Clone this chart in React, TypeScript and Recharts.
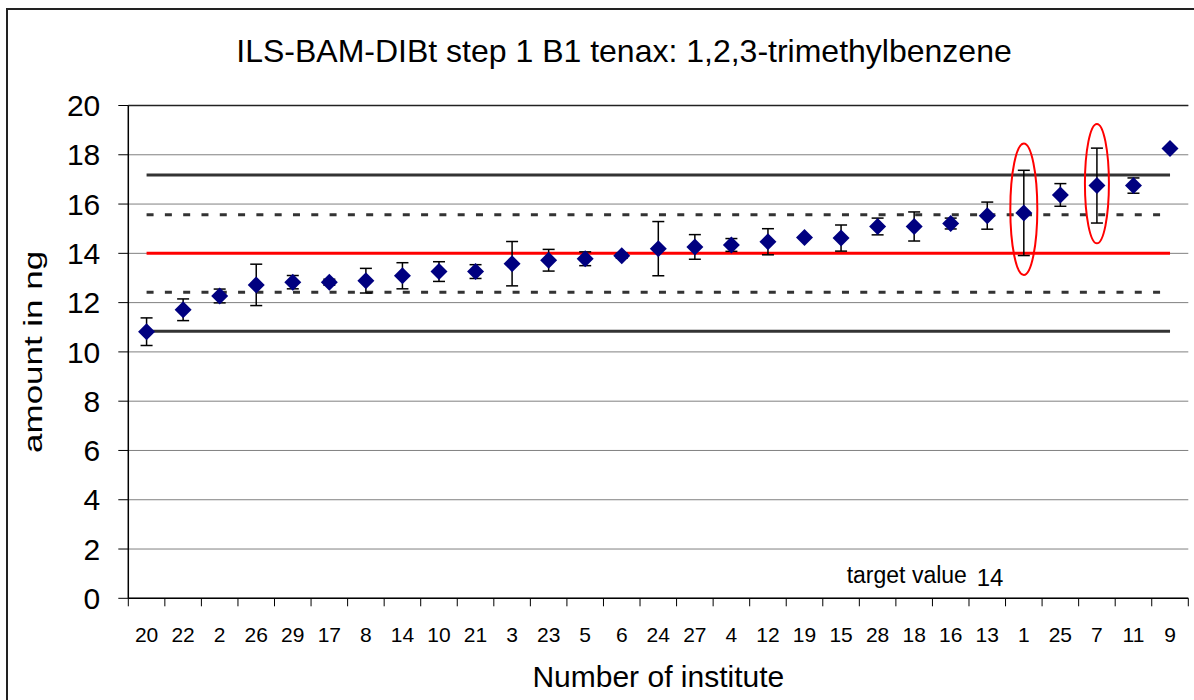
import {
  ComposedChart,
  Line,
  XAxis,
  YAxis,
  CartesianGrid,
  ErrorBar,
  ReferenceDot,
  ReferenceLine,
} from "recharts";

const institutes = [
  "20", "22", "2", "26", "29", "17", "8", "14", "10", "21", "3", "23", "5", "6", "24",
  "27", "4", "12", "19", "15", "28", "18", "16", "13", "1", "25", "7", "11", "9",
];
const means = [
  10.82, 11.71, 12.27, 12.72, 12.83, 12.83, 12.89, 13.09, 13.26, 13.26, 13.58, 13.72, 13.78, 13.9, 14.19,
  14.26, 14.34, 14.47, 14.64, 14.62, 15.09, 15.09, 15.21, 15.53, 15.64, 16.37, 16.75, 16.75, 18.25,
];
const errors = [
  0.56, 0.44, 0.28, 0.84, 0.27, 0.12, 0.5, 0.53, 0.4, 0.28, 0.9, 0.44, 0.28, 0.1, 1.1,
  0.5, 0.26, 0.53, 0, 0.53, 0.34, 0.59, 0.22, 0.55, 1.73, 0.46, 1.52, 0.31, 0,
];

const targetValue = 14;
const upperAction = 17.18;
const upperWarning = 15.57;
const lowerWarning = 12.42;
const lowerAction = 10.84;

const yTicks = [0, 2, 4, 6, 8, 10, 12, 14, 16, 18, 20];

// institutes circled in red, centre of the ellipse in ng
const circledInstitutes = ["1", "7"];
const circleCenters = [15.79, 16.83];

const rows = institutes.map((inst, i) => ({
  inst,
  mean: means[i],
  err: errors[i],
  ua: upperAction,
  uw: upperWarning,
  tv: targetValue,
  lw: lowerWarning,
  la: lowerAction,
}));

const FONT = '"Liberation Sans", Arial, sans-serif';

const Diamond = (props: any) => {
  const { cx, cy } = props;
  if (cx == null || cy == null) return <g key={props.index} />;
  const r = 8.5;
  return (
    <polygon
      key={props.index}
      points={`${cx},${cy - r} ${cx + r},${cy} ${cx},${cy + r} ${cx - r},${cy}`}
      fill="#000080"
    />
  );
};

// label in the middle of the band, tick marks on the band edges (Excel style)
const InstituteTick = (props: any) => {
  const { x, y, payload, index, visibleTicksCount, width } = props;
  const half =
    payload && typeof payload.offset === "number" && payload.offset > 0
      ? payload.offset
      : width / visibleTicksCount / 2;
  const last = index === visibleTicksCount - 1;
  return (
    <g>
      <line x1={x - half} y1={y} x2={x - half} y2={y + 8} stroke="#000" />
      {last && <line x1={x + half} y1={y} x2={x + half} y2={y + 8} stroke="#000" />}
      <text x={x} y={y + 43.4} textAnchor="middle" fontSize={21} fontFamily={FONT} fill="#000">
        {payload.value}
      </text>
    </g>
  );
};

const YTitle = (props: any) => {
  const vb = props.viewBox || {};
  const x = vb.x + 41.7;
  const y = vb.y + vb.height / 2;
  return (
    <text
      x={x}
      y={y}
      transform={`rotate(-90 ${x} ${y})`}
      textAnchor="middle"
      fontSize={25}
      fontFamily={FONT}
      fill="#000"
      textLength={202}
      lengthAdjust="spacingAndGlyphs"
    >
      amount in ng
    </text>
  );
};

const XTitle = (props: any) => {
  const vb = props.viewBox || {};
  return (
    <text
      x={vb.x + vb.width / 2}
      y={vb.y + 88.4}
      textAnchor="middle"
      fontSize={30}
      fontFamily={FONT}
      fill="#000"
    >
      Number of institute
    </text>
  );
};

const Ellipse = (rx: number, ry: number) => (props: any) => {
  const { cx, cy } = props;
  return <ellipse cx={cx} cy={cy} rx={rx} ry={ry} fill="none" stroke="#ff0000" strokeWidth={2} />;
};

export default function App() {
  return (
    <div
      style={{
        position: "fixed",
        left: 0,
        top: 0,
        width: 1194,
        height: 700,
        overflow: "hidden",
        background: "#fff",
        fontFamily: FONT,
      }}
    >
      <div
        style={{
          position: "absolute",
          left: 6,
          top: 8,
          width: 1300,
          height: 800,
          border: "2px solid #222",
        }}
      />
      <div style={{ position: "absolute", left: 0, top: 0 }}>
        <ComposedChart
          width={1194}
          height={700}
          data={rows}
          margin={{ top: 105.5, right: 5.7, bottom: 0, left: 0 }}
        >
          <CartesianGrid vertical={false} stroke="#808080" strokeWidth={1} />
          <XAxis
            dataKey="inst"
            scale="band"
            interval={0}
            height={101.7}
            tickSize={0}
            tickMargin={0}
            axisLine={{ stroke: "#000", strokeWidth: 1.5 }}
            tickLine={false}
            tick={<InstituteTick />}
            label={<XTitle />}
          />
          <YAxis
            domain={[0, 20]}
            ticks={yTicks}
            interval={0}
            width={128.3}
            tickSize={10}
            tickMargin={18}
            axisLine={{ stroke: "#000", strokeWidth: 1.5 }}
            tickLine={{ stroke: "#000" }}
            tick={{ fontSize: 30, fill: "#000", fontFamily: FONT }}
            label={<YTitle />}
          />
          <YAxis
            yAxisId="right"
            orientation="right"
            domain={[0, 20]}
            width={0}
            tick={false}
            tickLine={false}
            axisLine={{ stroke: "#222", strokeWidth: 1.5 }}
          />
          <ReferenceLine y={20} stroke="#222" strokeWidth={1.5} />
          <Line dataKey="ua" stroke="#333" strokeWidth={3} dot={false} activeDot={false} isAnimationActive={false} />
          <Line dataKey="la" stroke="#333" strokeWidth={3} dot={false} activeDot={false} isAnimationActive={false} />
          <Line
            dataKey="uw"
            stroke="#333"
            strokeWidth={3}
            strokeDasharray="7 11.3"
            dot={false}
            activeDot={false}
            isAnimationActive={false}
          />
          <Line
            dataKey="lw"
            stroke="#333"
            strokeWidth={3}
            strokeDasharray="7 11.3"
            dot={false}
            activeDot={false}
            isAnimationActive={false}
          />
          <Line dataKey="tv" stroke="#ff0000" strokeWidth={3} dot={false} activeDot={false} isAnimationActive={false} />
          <Line
            dataKey="mean"
            stroke="none"
            dot={(p: any) => <Diamond key={p.index} {...p} />}
            activeDot={false}
            isAnimationActive={false}
          >
            <ErrorBar dataKey="err" direction="y" width={6} stroke="#000" strokeWidth={1.5} />
          </Line>
          <ReferenceDot x={circledInstitutes[0]} y={circleCenters[0]} r={1} shape={Ellipse(13.5, 65.7)} />
          <ReferenceDot x={circledInstitutes[1]} y={circleCenters[1]} r={1} shape={Ellipse(12, 59.7)} />
        </ComposedChart>
      </div>
      <svg
        width={1194}
        height={700}
        style={{ position: "absolute", left: 0, top: 0, pointerEvents: "none" }}
      >
        <text x={624} y={62} textAnchor="middle" fontSize={32} fontFamily={FONT} fill="#000">
          ILS-BAM-DIBt step 1 B1 tenax: 1,2,3-trimethylbenzene
        </text>
        <text x={846.7} y={583.3} fontSize={23} fontFamily={FONT} fill="#000">
          target value
        </text>
        <text x={976.7} y={586} fontSize={24} fontFamily={FONT} fill="#000">
          {targetValue}
        </text>
      </svg>
    </div>
  );
}
